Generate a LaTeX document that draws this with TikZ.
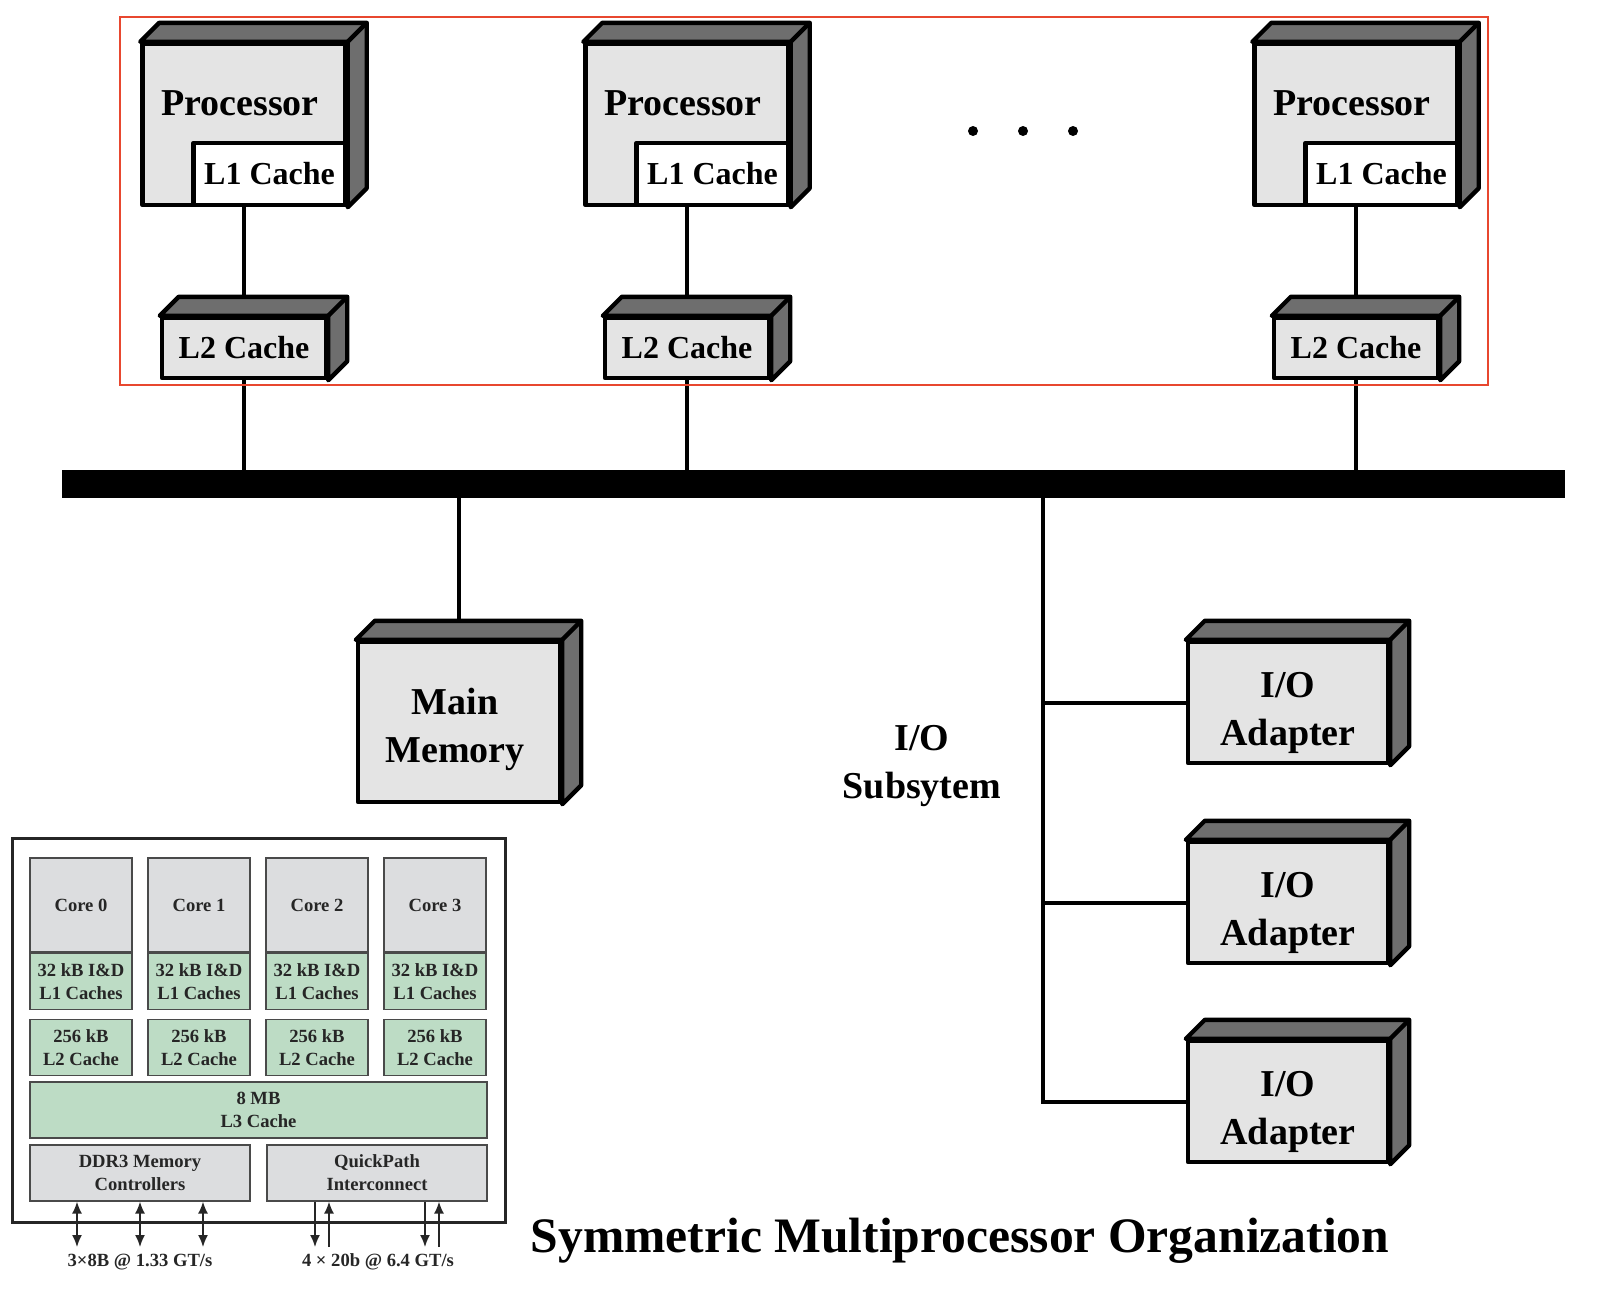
\documentclass[tikz,border=0pt]{standalone}
\usepackage{fontspec}
\setmainfont{Liberation Serif}
\usetikzlibrary{positioning,arrows.meta,calc}
\definecolor{boxface}{HTML}{E4E4E4}
\definecolor{boxdark}{HTML}{6E6E6E}
\definecolor{grpred}{HTML}{E8472F}
\definecolor{coregray}{HTML}{DCDDDF}
\definecolor{cachegreen}{HTML}{BDDCC5}
\definecolor{chipline}{HTML}{4A4A4A}
\pgfdeclarelayer{bg}
\pgfsetlayers{bg,main}
% top and right faces of a 3d block
\newcommand\boxsides[1]{%
  \filldraw[side3d] (#1.north west) -- ++(19,-19) -- ([shift={(19,-19)}]#1.north east)
    -- ([shift={(19,-19)}]#1.south east) -- (#1.south east) -- (#1.north east) -- cycle;
  \draw[side3d] (#1.north east) -- ++(19,-19);}

\begin{document}
\begin{tikzpicture}[x=0.5pt, y=-0.5pt,
  unit/.style={draw=black, line width=2.2pt, fill=boxface, line join=round, inner sep=0pt,
               align=center, font=\fontsize{19}{24}\selectfont\bfseries},
  big/.style={font=\fontsize{19}{24}\selectfont\bfseries, align=center},
  small/.style={font=\fontsize{16}{19}\selectfont\bfseries},
  side3d/.style={draw=black, fill=boxdark, line width=2.2pt, line join=round},
  link/.style={draw=black, line width=2pt},
  dot/.style={circle, fill=black, minimum size=5pt, inner sep=0pt},
  chipbox/.style={draw=chipline, line width=0.6pt, inner sep=0pt, align=center,
                  font=\fontsize{9.3}{11.5}\selectfont\bfseries, text=black!85},
  core/.style={chipbox, fill=coregray, minimum width=51pt, minimum height=47pt},
  cache/.style={chipbox, fill=cachegreen, minimum width=51pt, minimum height=28pt},
  ctrl/.style={chipbox, fill=coregray, minimum width=110pt, minimum height=28pt},
  dbl/.style={{Latex[length=6pt,width=5pt]}-{Latex[length=6pt,width=5pt]}, line width=0.8pt, draw=black!85},
  oneway/.style={-{Latex[length=6pt,width=5pt]}, line width=0.8pt, draw=black!85}
]
\useasboundingbox (0,0) rectangle (1610,1296);

% processors with L1 and L2
\foreach \n/\cx in {1/244,2/687,3/1356}{
  \node[unit, minimum width=101.5pt, minimum height=80.5pt] (p\n) at (\cx,124.5) {};
  \boxsides{p\n}
  \node[unit, small, fill=white, minimum width=76pt, minimum height=31pt, anchor=south east] (l1\n) at (p\n.south east) {L1 Cache};
  \node[big] (pt\n) at ($(p\n.north)+(-4,61)$) {Processor};
  \node[unit, small, minimum width=82pt, minimum height=30pt] (l2\n) at (\cx,348) {L2 Cache};
  \boxsides{l2\n}
}
\foreach \n/\dx in {1/973,2/1023,3/1073} \node[dot] (dot\n) at (\dx,131) {};
\node[draw=grpred, line width=0.8pt, minimum width=684pt, minimum height=184pt] (grp) at (804,201) {};

% bus, memory, i/o
\node[fill=black, inner sep=0pt, minimum width=751.5pt, minimum height=14pt] (bus) at (813.5,484) {};
\node[unit, minimum width=101pt, minimum height=80pt] (mem) at (459,722) {};
\boxsides{mem}
\node[big] (memtxt) at ($(mem.center)+(-4,7)$) {Main\\Memory};
\foreach \n/\cy in {1/702.5,2/902.5,3/1101.5}{
  \node[unit, minimum width=100pt, minimum height=60.5pt] (a\n) at (1288,\cy) {};
  \boxsides{a\n}
  \node[big] (at\n) at ($(a\n.center)+(0,10)$) {I/O\\Adapter};
}
\node[big] (iolbl) at (922,766) {I/O\\Subsytem};
\coordinate (iox) at (1043,484);

\begin{pgfonlayer}{bg}
\foreach \n in {1,2,3}{
  \draw[link] (p\n.south) -- (l2\n.north);
  \draw[link] (l2\n.south) -- (l2\n.south |- bus.north);
}
\draw[link] (bus.south -| mem.north) -- (mem.north);
\draw[link] (iox) -- (iox |- a3.west) -- (a3.west);
\foreach \n in {1,2} \draw[link] (iox |- a\n.west) -- (a\n.west);
\end{pgfonlayer}

% quad core chip
\node[draw=black!85, line width=1.5pt, minimum width=246.5pt, minimum height=192pt] (chip) at (258.5,1030) {};
\foreach \i in {0,1,2,3}{
  \pgfmathsetmacro\cx{81+118*\i}
  \node[core] (core\i) at (\cx,905) {Core \i};
  \node[cache, below=0pt of core\i] (cl1\i) {32 kB I\&D\\L1 Caches};
  \node[cache, below=4.5pt of cl1\i] (cl2\i) {256 kB\\L2 Cache};
}
\node[cache, minimum width=228.5pt] (l3) at (258.5,1110) {8 MB\\L3 Cache};
\node[ctrl] (ddr) at (140,1173) {DDR3 Memory\\Controllers};
\node[ctrl] (qpi) at (377,1173) {QuickPath\\Interconnect};
\foreach \n/\ax in {1/77,2/140,3/203}{
  \coordinate (m\n) at (\ax,1247);
  \draw[dbl] (m\n |- ddr.south) -- (m\n);
}
\foreach \n/\ax in {1/315,2/425}{
  \coordinate (qd\n) at (\ax,1247);
  \draw[oneway] (qd\n |- qpi.south) -- (qd\n);
}
\foreach \n/\ax in {1/329,2/439}{
  \coordinate (qu\n) at (\ax,1247);
  \draw[oneway] (qu\n) -- (qu\n |- qpi.south);
}
\node[font=\fontsize{9.3}{11.5}\selectfont\bfseries, text=black!85] (ddrrate) at (140,1262) {3×8B @ 1.33 GT/s};
\node[font=\fontsize{9.3}{11.5}\selectfont\bfseries, text=black!85] (qpirate) at (378,1262) {4 × 20b @ 6.4 GT/s};

\node[font=\fontsize{24.8}{28}\selectfont\bfseries] (title) at (960,1241) {Symmetric Multiprocessor Organization};
\end{tikzpicture}
\end{document}
